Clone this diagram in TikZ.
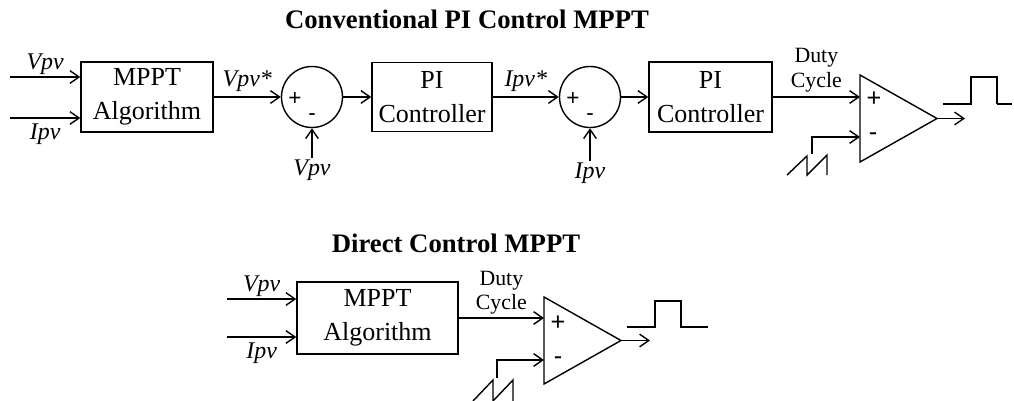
\documentclass[tikz,border=0pt]{standalone}
\usepackage{fontspec}
\setmainfont{Liberation Serif}
\setsansfont{Liberation Sans}
\usepackage{tikz}
\usetikzlibrary{arrows.meta, positioning, calc}

\begin{document}
\begin{tikzpicture}[
    x=0.025cm, y=-0.025cm,
    line width=1pt,
    >={Straight Barb[length=6.5pt, width=9pt]},
    box/.style={rectangle, draw=black, fill=white, align=center, inner sep=0pt, font=\fontsize{18.5}{24}\selectfont},
    sum/.style={circle, draw=black, minimum size=1.525cm, inner sep=0pt},
    lbl/.style={font=\fontsize{17}{20}\selectfont\itshape, inner sep=1pt},
    sign/.style={font=\sffamily\fontsize{16}{16}\selectfont, inner sep=0pt},
    duty/.style={font=\fontsize{15.5}{17.5}\selectfont, align=center, inner sep=1pt},
    headline/.style={font=\fontsize{19}{22}\selectfont\bfseries},
    arrow/.style={->, draw=black},
    wire/.style={draw=black, line join=miter}
]
\useasboundingbox (0,0) rectangle (1014,401);

% Conventional PI control
\node (head1) [headline, anchor=base] at (467,28) {Conventional PI Control MPPT};
\node (mppt1) [box, minimum width=3.3cm, minimum height=1.75cm] at (147,97) {MPPT\\Algorithm};
\node (sum1) [sum] at (312,97) {};
\node (pi1) [box, minimum width=3cm, minimum height=1.725cm] at (432,97) {PI\\Controller};
\node (sum2) [sum] at (590,97) {};
\node (pi2) [box, minimum width=3.075cm, minimum height=1.75cm] at (710.5,97) {PI\\Controller};
\node (sum1p) [sign] at ($(sum1)+(-17,2)$) {+};
\node (sum1m) [sign] at ($(sum1)+(0,20)$) {-};
\node (sum2p) [sign] at ($(sum2)+(-17,2)$) {+};
\node (sum2m) [sign] at ($(sum2)+(0,20)$) {-};
\node (vfb) [lbl] at (312,170) {Vpv};
\node (ifb) [lbl] at (590,173) {Ipv};

\coordinate (vin1) at (10,77);
\coordinate (iin1) at (10,118);
\coordinate (cmp1top) at (860,75);
\coordinate (cmp1bot) at (860,162);
\coordinate (cmp1tip) at (937,118.5);
\coordinate (cmp1p) at (860,97);
\coordinate (cmp1m) at (860,137);
\coordinate (saw1) at (812,154);
\coordinate (out1) at (965,118.5);
\node (cmp1ps) [sign, font=\sffamily\fontsize{18}{18}\selectfont] at (874,99) {+};
\node (cmp1ms) [sign, font=\sffamily\fontsize{18}{18}\selectfont] at (873,137) {-};

\draw [wire] (cmp1top) -- (cmp1tip) -- (cmp1bot) -- cycle;
\draw [arrow] (vin1) -- node[lbl, above] {Vpv} (vin1 -| mppt1.west);
\draw [arrow] (iin1) -- node[lbl, below=3pt] {Ipv} (iin1 -| mppt1.west);
\draw [arrow] (mppt1) -- node[lbl, above=2pt] {Vpv*} (sum1);
\draw [arrow] (vfb) -- (sum1);
\draw [arrow] (sum1) -- (pi1);
\draw [arrow] (pi1) -- node[lbl, above=2pt] {Ipv*} (sum2);
\draw [arrow] (ifb) -- (sum2);
\draw [arrow] (sum2) -- (pi2);
\draw [arrow] (pi2) -- node[duty, above=2pt] {Duty\\Cycle} (cmp1p);
\draw [arrow] (saw1) |- (cmp1m);
\draw [arrow] (cmp1tip) -- (out1);
\draw [wire] (787,175) -- (807,156) -- (807,175) -- (827,155) -- (827,175);
\draw [wire] (943,104) -- (971,104) -- (971,77) -- (997,77) -- (997,104);
\draw [wire] (996.5,104) -- (1012,104);

% Direct control
\node (head2) [headline, anchor=base] at (456,252) {Direct Control MPPT};
\node (mppt2) [box, minimum width=4.025cm, minimum height=1.8cm] at (377.5,318) {MPPT\\Algorithm};

\coordinate (vin2) at (227,299);
\coordinate (iin2) at (227,337);
\coordinate (cmp2top) at (544,297);
\coordinate (cmp2bot) at (544,384);
\coordinate (cmp2tip) at (621,340.5);
\coordinate (cmp2p) at (544,318);
\coordinate (cmp2m) at (544,360);
\coordinate (saw2) at (497,378);
\coordinate (out2) at (650,340.5);
\node (cmp2ps) [sign, font=\sffamily\fontsize{18}{18}\selectfont] at (558,323) {+};
\node (cmp2ms) [sign, font=\sffamily\fontsize{18}{18}\selectfont] at (558,361) {-};

\draw [wire] (cmp2top) -- (cmp2tip) -- (cmp2bot) -- cycle;
\draw [arrow] (vin2) -- node[lbl, above] {Vpv} (vin2 -| mppt2.west);
\draw [arrow] (iin2) -- node[lbl, below=3pt] {Ipv} (iin2 -| mppt2.west);
\draw [arrow] (mppt2) -- node[duty, above=1pt] {Duty\\Cycle} (cmp2p);
\draw [arrow] (saw2) |- (cmp2m);
\draw [arrow] (cmp2tip) -- (out2);
\draw [wire] (473,401) -- (493,380) -- (493,401) -- (513,380) -- (513,401);
\draw [wire] (627,327) -- (655,327) -- (655,301) -- (681,301) -- (681,327) -- (708,327);

\end{tikzpicture}
\end{document}
